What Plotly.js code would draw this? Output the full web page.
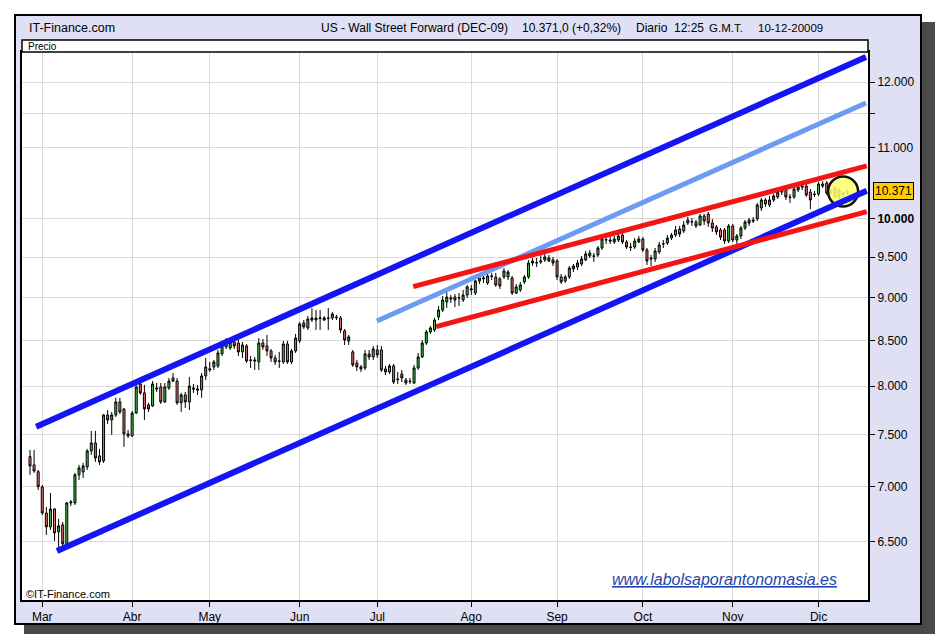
<!DOCTYPE html>
<html><head><meta charset="utf-8">
<script src="https://cdn.plot.ly/plotly-3.0.1.min.js"></script>
<style>
body{margin:0;background:#fff;}
#wrap{position:relative;width:940px;height:640px;overflow:hidden;background:#fff;}
.shR{position:absolute;left:922px;top:22px;width:13px;height:612px;background:#4a4a4a;}
.shB{position:absolute;left:24px;top:625px;width:911px;height:9px;background:#4a4a4a;}
#frame{position:absolute;left:14px;top:14px;width:904px;height:607px;border:2px solid #000;background:#e0e0f4;}
#chart{position:absolute;left:0;top:0;width:940px;height:640px;}
</style></head>
<body><div id="wrap"><div class="shR"></div><div class="shB"></div><div id="frame"></div><div id="chart"></div></div>
<script>
// ---- data (Wall Street Forward DEC-09, daily, late Feb -> 10 Dec 2009) ----
const openP = [7283,7203,7139,6994,6756,6632,6792,6588,6650,6484,
6847,6847,7108,7136,7184,7338,7417,7290,7241,7699,
7648,7699,7834,7760,7507,7487,7719,8024,7929,7803,
7792,7981,7992,7834,7981,8088,8055,7824,7908,7834,
7981,7971,7960,8110,8175,8208,8219,8352,8430,8418,
8486,8474,8374,8441,8285,8285,8263,8474,8441,8385,
8307,8274,8263,8463,8263,8385,8497,8704,8646,8762,
8762,8755,8738,8762,8762,8773,8762,8612,8497,8374,
8252,8186,8197,8352,8318,8396,8396,8186,8153,8219,
8077,8131,8066,8055,8034,8197,8318,8474,8600,8623,
8773,8855,8950,8986,9010,8998,8974,9034,9095,9058,
9205,9230,9180,9267,9254,9230,9254,9254,9242,9058,
9095,9193,9254,9453,9428,9441,9466,9453,9466,9453,
9254,9205,9254,9353,9378,9416,9466,9517,9517,9529,
9619,9721,9721,9695,9721,9786,9695,9631,9631,9695,
9734,9593,9491,9479,9568,9670,9682,9747,9786,9865,
9839,9984,9958,9958,9918,10038,10064,9944,9892,9852,
9852,9708,9905,9721,9773,9878,9984,9984,9997,10145,
10254,10186,10254,10295,10405,10405,10295,10295,10391,10447,
10447,10363,10336,10336,10447,10488,10363,10419,10391,10322,
10350];
const highP = [7348,7348,7155,7013,6810,6938,6800,6703,6676,6856,
6874,7127,7203,7222,7358,7537,7537,7358,7709,7750,
7730,7876,7876,7771,7547,7740,8034,8066,8013,7824,
8055,8034,8034,8034,8088,8142,8088,7929,7939,8099,
8024,8013,8142,8307,8263,8285,8396,8474,8531,8531,
8554,8508,8486,8463,8329,8318,8531,8520,8566,8407,
8341,8374,8497,8497,8407,8577,8715,8738,8785,8878,
8855,8855,8785,8878,8831,8797,8785,8635,8566,8396,
8285,8230,8396,8396,8441,8452,8441,8219,8241,8241,
8153,8175,8088,8088,8230,8363,8508,8623,8669,8762,
8903,9022,9071,9034,9046,9058,9095,9156,9156,9217,
9267,9279,9304,9304,9304,9254,9365,9340,9267,9168,
9193,9279,9466,9491,9491,9529,9542,9529,9504,9479,
9291,9279,9390,9416,9466,9517,9580,9593,9555,9644,
9760,9773,9773,9773,9799,9812,9721,9682,9747,9773,
9760,9619,9529,9619,9695,9721,9786,9812,9905,9905,
9971,10024,10011,9984,10064,10064,10091,9997,9918,9878,
9878,9931,9931,9799,9905,9984,10011,10024,10213,10281,
10281,10309,10336,10391,10433,10433,10336,10433,10461,10475,
10475,10405,10377,10502,10516,10516,10405,10447,10419,10377,
10405];
const lowP = [7108,7127,6966,6738,6561,6605,6509,6423,6466,6466,
6819,6828,7060,7079,7155,7300,7232,7203,7222,7608,
7497,7679,7709,7378,7467,7477,7709,7908,7648,7730,
7782,7939,7813,7824,7960,8045,7803,7730,7771,7750,
7929,7908,7876,8066,8153,8175,8197,8329,8407,8396,
8407,8329,8307,8252,8197,8175,8175,8396,8329,8263,
8230,8197,8241,8241,8241,8363,8474,8635,8623,8715,
8623,8623,8727,8623,8738,8738,8589,8452,8452,8208,
8164,8153,8175,8285,8285,8307,8153,8120,8131,8024,
8024,8045,8013,8024,8024,8175,8307,8452,8577,8600,
8738,8831,8879,8938,8890,8903,8950,8998,9034,9034,
9168,9180,9156,9217,9132,9107,9230,9217,9034,9046,
9071,9168,9230,9390,9378,9416,9441,9441,9390,9217,
9168,9180,9230,9315,9340,9390,9453,9491,9441,9504,
9593,9670,9670,9670,9695,9670,9606,9580,9606,9682,
9568,9403,9390,9441,9542,9619,9657,9721,9760,9760,
9812,9918,9905,9878,9905,9918,9892,9826,9786,9721,
9670,9682,9695,9670,9734,9852,9905,9944,9971,10104,
10159,10159,10227,10268,10322,10254,10213,10268,10363,10391,
10295,10131,10295,10309,10419,10322,10322,10268,10268,10295,
10322];
const closeP = [7193,7145,6997,6756,6632,6792,6579,6641,6484,6847,
6856,7108,7174,7193,7338,7417,7270,7232,7699,7648,
7699,7834,7730,7507,7487,7719,7992,7929,7761,7761,
8024,7971,7834,7992,8055,8055,7824,7908,7834,8002,
7971,7960,8110,8208,8186,8263,8363,8441,8474,8486,
8441,8374,8452,8274,8280,8274,8474,8430,8385,8307,
8263,8270,8463,8263,8385,8531,8692,8658,8750,8738,
8738,8762,8762,8758,8808,8765,8623,8508,8543,8230,
8208,8208,8352,8318,8407,8341,8175,8153,8219,8045,
8072,8088,8034,8050,8197,8318,8474,8600,8646,8738,
8855,8974,9010,8998,8974,9000,9034,9132,9107,9205,
9242,9242,9267,9262,9156,9144,9328,9315,9058,9132,
9156,9254,9428,9428,9432,9453,9504,9491,9428,9254,
9193,9254,9365,9390,9428,9479,9542,9555,9513,9619,
9734,9725,9708,9734,9773,9695,9631,9627,9708,9734,
9593,9453,9479,9580,9657,9674,9747,9786,9852,9799,
9918,9944,9962,9905,10038,9971,9944,9878,9826,9760,
9708,9905,9721,9773,9878,9958,9944,9971,10186,10254,
10199,10254,10309,10363,10363,10295,10290,10405,10433,10433,
10322,10254,10330,10475,10475,10350,10359,10295,10295,10350,
10371];

// month ticks (position = session number)
const monthPos = [3, 25, 44, 66, 85, 108, 129, 150, 172, 193];
const monthLabels = ['Mar','Abr','May','Jun','Jul','Ago','Sep','Oct','Nov','Dic'];
// price ticks
const priceTicks = [6500,7000,7500,8000,8500,9000,9500,10000,11000,11500,12000];
const priceLabels = ['6.500','7.000','7.500','8.000','8.500','9.000','9.500','<b>10.000</b>','11.000','','12.000'];

// trend lines (start/end session, start/end price)
const blueUpX = [1.5, 204.6],  blueUpY = [7580, 12407];
const blueLoX = [6.6, 204.8],  blueLoY = [6423, 10381];
const lightX  = [84.9, 204.6], lightY  = [8727, 11669];
const redUpX  = [93.8, 204.8], redUpY  = [9135, 10730];
const redLoX  = [99.4, 204.8], redLoY  = [8661, 10095];

const lastLabel = '10.371';

// ---- layout helpers ----
const L = 22, R = 72, T = 52, B = 40, W = 940, H = 640;
const PW = W - L - R, PH = H - T - B;
const px = p => (p - L) / PW;
const py = p => (H - B - p) / PH;

const idx = closeP.map((_, i) => i);
const last = closeP.length - 1;
const narrow = 'Liberation Sans Narrow, Arial Narrow, sans-serif';
const sans = 'Liberation Sans, Arial, sans-serif';

const lineTrace = (x, y, color, w) => ({type:'scatter', mode:'lines', x, y, line:{color, width:w}, hoverinfo:'skip', showlegend:false});

const data = [
  {type:'scatter', mode:'markers', x:[last-1], y:[closeP[last]], marker:{size:30, color:'rgba(255,255,110,0.85)', line:{color:'#111', width:2.5}}, hoverinfo:'skip', showlegend:false},
  lineTrace(blueUpX, blueUpY, '#1414f5', 6),
  lineTrace(blueLoX, blueLoY, '#1414f5', 6),
  lineTrace(lightX, lightY, '#6b9bf2', 5),
  lineTrace(redUpX, redUpY, '#f51414', 5),
  lineTrace(redLoX, redLoY, '#f51414', 5),
  {type:'candlestick', x:idx, open:openP, high:highP, low:lowP, close:closeP,
   increasing:{line:{color:'#000', width:1}, fillcolor:'#3cc23c'},
   decreasing:{line:{color:'#000', width:1}, fillcolor:'#de6f6f'},
   whiskerwidth:0, hoverinfo:'skip', showlegend:false}
];

const tfont = {family:sans, size:12, color:'#000'};
const head = (x, text, size) => ({xref:'paper', yref:'paper', x:px(x), y:py(28), xanchor:'left', yanchor:'middle', showarrow:false, text, font:{family:sans, size:size||12, color:'#000'}});

const layout = {
  width:W, height:H, margin:{l:L, r:R, t:T, b:B},
  paper_bgcolor:'rgba(0,0,0,0)', plot_bgcolor:'#ffffff',
  showlegend:false, hovermode:false,
  xaxis:{range:[-1.96, 205.1], tickmode:'array', tickvals:monthPos, ticktext:monthLabels,
    showgrid:true, gridcolor:'#dadada', gridwidth:1, zeroline:false,
    showline:true, linecolor:'#000', linewidth:2, mirror:true,
    ticks:'outside', ticklen:5, tickcolor:'#000', tickfont:{family:narrow, size:12, color:'#000'},
    rangeslider:{visible:false}, fixedrange:true},
  yaxis:{type:'log', side:'right', range:[Math.log10(6016), Math.log10(12490)],
    tickmode:'array', tickvals:priceTicks, ticktext:priceLabels,
    showgrid:true, gridcolor:'#dadada', gridwidth:1, zeroline:false,
    showline:true, linecolor:'#000', linewidth:2, mirror:true,
    ticks:'outside', ticklen:5, tickcolor:'#000', tickfont:tfont,
    fixedrange:true},
  shapes:[
    {type:'rect', xref:'paper', yref:'paper', x0:0, x1:1, y0:1, y1:py(40), fillcolor:'#fff', line:{color:'#000', width:1.5}}
  ],
  annotations:[
    head(27, 'IT-Finance.com', 12.5),
    head(319, 'US - Wall Street Forward (DEC-09)', 12),
    head(520, '10.371,0 (+0,32%)', 12),
    head(634, 'Diario', 12),
    head(672, '12:25', 12),
    head(707, 'G.M.T.', 11.5),
    head(756, '10-12-20009', 11.5),
    {xref:'paper', yref:'paper', x:px(26), y:py(46.5), xanchor:'left', yanchor:'middle', showarrow:false, text:'Precio', font:{family:narrow, size:10, color:'#000'}},
    {xref:'paper', yref:'paper', x:px(24), y:py(594), xanchor:'left', yanchor:'middle', showarrow:false, text:'©IT-Finance.com', font:{family:narrow, size:11, color:'#000'}},
    {xref:'paper', yref:'paper', x:px(610), y:py(579), xanchor:'left', yanchor:'middle', showarrow:false, text:'<i><u>www.labolsaporantonomasia.es</u></i>', font:{family:sans, size:16, color:'#1d44b0'}},
    {xref:'paper', yref:'y', x:px(873), y:Math.log10(closeP[last]), xanchor:'left', yanchor:'middle', showarrow:false, text:lastLabel, font:tfont, bgcolor:'#ffcc00', bordercolor:'#000', borderwidth:1, borderpad:1}
  ]
};

Plotly.newPlot('chart', data, layout, {displayModeBar:false, staticPlot:true});
</script>
</body></html>
